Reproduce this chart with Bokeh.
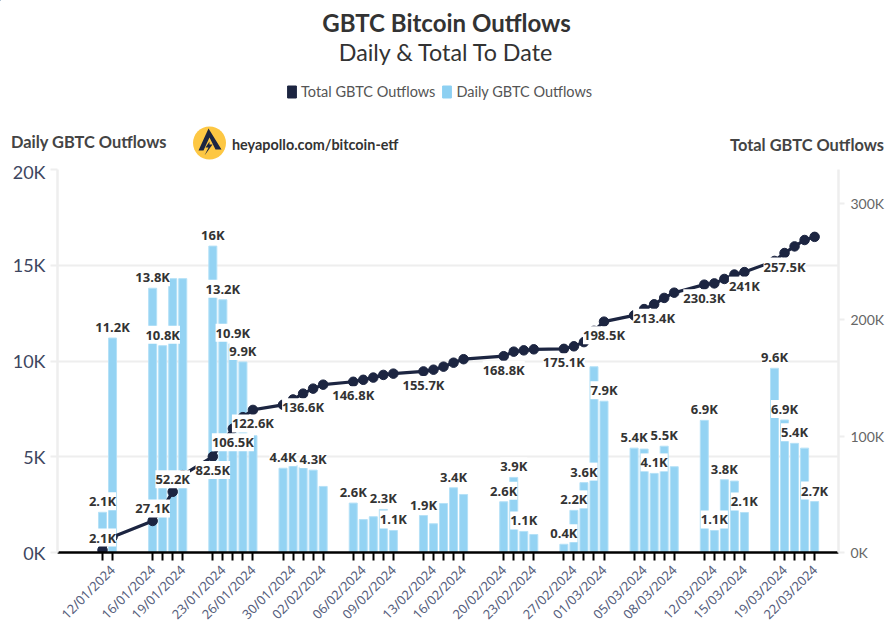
import numpy as np
import pandas as pd
from bokeh.plotting import figure
from bokeh.layouts import column
from bokeh.embed import file_html
from bokeh.resources import INLINE
from bokeh.core.properties import value
from bokeh.models import (ColumnDataSource, FixedTicker, Legend, LegendItem, LinearAxis, Range1d)

dates = ["11/01/2024","12/01/2024","16/01/2024","17/01/2024","18/01/2024","19/01/2024",
         "22/01/2024","23/01/2024","24/01/2024","25/01/2024","26/01/2024",
         "29/01/2024","30/01/2024","31/01/2024","01/02/2024","02/02/2024",
         "05/02/2024","06/02/2024","07/02/2024","08/02/2024","09/02/2024",
         "12/02/2024","13/02/2024","14/02/2024","15/02/2024","16/02/2024",
         "20/02/2024","21/02/2024","22/02/2024","23/02/2024",
         "26/02/2024","27/02/2024","28/02/2024","29/02/2024","01/03/2024",
         "04/03/2024","05/03/2024","06/03/2024","07/03/2024","08/03/2024",
         "11/03/2024","12/03/2024","13/03/2024","14/03/2024","15/03/2024",
         "18/03/2024","19/03/2024","20/03/2024","21/03/2024","22/03/2024"]
daily = [2.1,11.2,13.8,10.8,14.3,14.3,
         16.0,13.2,10.9,9.95,6.1,
         4.4,4.55,4.45,4.3,3.45,
         2.58,1.72,1.87,2.25,1.15,
         1.93,1.5,2.56,3.38,3.03,
         2.65,3.92,1.1,0.94,
         0.43,2.2,3.65,9.7,7.9,
         5.45,5.4,4.13,5.55,4.48,
         6.9,1.15,3.8,3.73,2.09,
         9.62,6.92,5.7,5.45,2.66]
total = [2.1,13.3,27.1,37.9,52.2,66.5,
         82.5,95.7,106.5,116.4,122.6,
         127.0,131.6,136.6,140.9,144.3,
         146.8,148.5,150.4,152.7,153.8,
         155.7,157.2,159.8,163.2,166.2,
         168.8,172.7,173.8,174.7,
         175.1,177.3,180.9,190.6,198.5,
         203.9,209.3,213.4,218.9,223.4,
         230.3,231.4,235.2,239.0,241.1,
         250.7,257.5,263.2,268.7,271.4]
tick_labels = ["12/01/2024","16/01/2024","19/01/2024","23/01/2024","26/01/2024","30/01/2024",
               "02/02/2024","06/02/2024","09/02/2024","13/02/2024","16/02/2024","20/02/2024",
               "23/02/2024","27/02/2024","01/03/2024","05/03/2024","08/03/2024","12/03/2024",
               "15/03/2024","19/03/2024","22/03/2024"]
daily_label_dates = ["11/01/2024","12/01/2024","16/01/2024","17/01/2024","22/01/2024","23/01/2024",
                     "24/01/2024","25/01/2024","29/01/2024","01/02/2024","05/02/2024","08/02/2024",
                     "09/02/2024","12/02/2024","15/02/2024","20/02/2024","21/02/2024","22/02/2024",
                     "26/02/2024","27/02/2024","28/02/2024","01/03/2024","04/03/2024","06/03/2024",
                     "07/03/2024","11/03/2024","12/03/2024","13/03/2024","15/03/2024","18/03/2024",
                     "19/03/2024","20/03/2024","22/03/2024"]
daily_label_text = ["2.1K","11.2K","13.8K","10.8K","16K","13.2K","10.9K","9.9K","4.4K","4.3K","2.6K","2.3K",
                    "1.1K","1.9K","3.4K","2.6K","3.9K","1.1K","0.4K","2.2K","3.6K","7.9K","5.4K","4.1K",
                    "5.5K","6.9K","1.1K","3.8K","2.1K","9.6K","6.9K","5.4K","2.7K"]
total_above_dates = ["11/01/2024","16/01/2024","18/01/2024"]
total_above_text = ["2.1K","27.1K","52.2K"]
total_below_dates = ["22/01/2024","24/01/2024","26/01/2024","31/01/2024","05/02/2024","12/02/2024","20/02/2024",
                     "26/02/2024","01/03/2024","06/03/2024","11/03/2024","15/03/2024","19/03/2024"]
total_below_text = ["82.5K","106.5K","122.6K","136.6K","146.8K","155.7K","168.8K",
                    "175.1K","198.5K","213.4K","230.3K","241K","257.5K"]

NAVY = "#1c2541"
BLUE = "#94d3f3"
INK = "#333333"
FONT = "Noto Sans"
HEAD = "Lato"

def ms(strings):
    return (pd.to_datetime(strings, format="%d/%m/%Y") - pd.Timestamp("1970-01-01")) / pd.Timedelta(milliseconds=1)

DAY = 86400000.0
x_all = np.asarray(ms(dates), dtype=float)
x0 = float(ms(["11/01/2024"])[0])
W = 884
H1 = 160                     # header strip
L, R, T, B = 57, 46, 9, 80   # borders of the chart figure
px_per_day = 10.03
xmin = x0 - (102 - 57) / px_per_day * DAY
xmax = x0 + (838 - 102) / px_per_day * DAY

# header strip: title, subtitle, legend, axis captions and logo
h = figure(width=W, height=H1, output_backend="svg", toolbar_location=None,
           x_range=Range1d(0, W), y_range=Range1d(H1, 0), outline_line_color=None,
           min_border_left=0, min_border_right=0, min_border_top=0, min_border_bottom=0,
           frame_align=False)
h.axis.visible = False
h.grid.visible = False
def put(text, px, py, size, bold=False, align="left", color=INK, font=HEAD):
    h.text(x=[px], y=[py], text=[text], text_font=value(font), text_font_size=size,
           text_font_style="bold" if bold else "normal", text_align=align,
           text_baseline="middle", text_color=color)
put("GBTC Bitcoin Outflows", 446, 21.5, "24px", True, "center")
put("Daily & Total To Date", 446, 51.5, "23.3px", False, "center")
put("Daily GBTC Outflows", 10.5, 141, "16.4px", True, "left", "#444444")
put("Total GBTC Outflows", 883.5, 144, "16.4px", True, "right", "#444444")
put("heyapollo.com/bitcoin-etf", 231.5, 144, "14.4px", True, "left", "#333333")
h.scatter(x=[209], y=[142.5], size=33, fill_color="#fdc743", line_color=None)
h.patch(x=[208, 198, 203, 209, 215, 221], y=[128, 150, 150, 137, 149, 149], fill_color=NAVY, line_color=None)
h.patch(x=[209, 205, 208, 204, 212, 209], y=[141, 147, 147, 155, 144, 144], fill_color=NAVY, line_color=None)
sw_total = h.vbar(x=[-50], top=[-50], bottom=[-60], width=1, fill_color=NAVY, line_color=NAVY)
sw_daily = h.vbar(x=[-50], top=[-50], bottom=[-60], width=1, fill_color="#8dd0f2", line_color="#8dd0f2")
legend = Legend(items=[LegendItem(label="Total GBTC Outflows", renderers=[sw_total]),
                       LegendItem(label="Daily GBTC Outflows", renderers=[sw_daily])],
                orientation="horizontal", location=(286, H1 - 100),
                glyph_width=11, glyph_height=15, label_standoff=4, spacing=6, padding=0, margin=0,
                border_line_color=None, background_fill_alpha=0,
                label_text_font=HEAD, label_text_font_size="14.5px", label_text_color="#555555",
                label_height=15)
h.add_layout(legend, "center")

# chart
p = figure(output_backend="svg", toolbar_location=None,
           frame_width=781, frame_height=383,
           x_range=Range1d(xmin, xmax), y_range=Range1d(0, 20),
           min_border_left=L, min_border_right=R, min_border_top=T, min_border_bottom=B,
           outline_line_color=None, background_fill_color="white", frame_align=False)
p.extra_y_ranges["total"] = Range1d(0, 383 / 1.163)

p.xgrid.visible = False
p.ygrid.ticker = FixedTicker(ticks=[0, 5, 10, 15, 20])
p.ygrid.grid_line_color = "#eeeeee"
p.ygrid.grid_line_width = 2

ax = p.xaxis[0]
ax.ticker = FixedTicker(ticks=list(x_all))
ax.major_label_overrides = {float(t): "" for t in x_all}
for s in tick_labels:
    ax.major_label_overrides[float(ms([s])[0])] = s
ax.major_label_orientation = np.pi / 4
ax.axis_line_color = "black"
ax.axis_line_width = 2.5
ax.major_tick_line_color = "black"
ax.major_tick_line_width = 2
ax.major_tick_in = 0
ax.major_tick_out = 8
ax.minor_tick_line_color = None
ax.major_label_text_font = FONT
ax.major_label_text_font_size = "13px"
ax.major_label_text_color = "#565e7c"
ax.major_label_standoff = 7

ay = p.yaxis[0]
ay.ticker = FixedTicker(ticks=[0, 5, 10, 15, 20])
ay.major_label_overrides = {0: "0K", 5: "5K", 10: "10K", 15: "15K", 20: "20K"}
ay.axis_line_color = "#eeeeee"
ay.axis_line_width = 2.5
ay.major_tick_line_color = "#eeeeee"
ay.major_tick_line_width = 2
ay.major_tick_in = 0
ay.major_tick_out = 7
ay.minor_tick_line_color = None
ay.major_label_text_font = HEAD
ay.major_label_text_font_size = "18px"
ay.major_label_text_color = "#3d4660"
ay.major_label_standoff = 5

ar = LinearAxis(y_range_name="total", ticker=FixedTicker(ticks=[0, 100, 200, 300]),
                major_label_overrides={0: "0K", 100: "100K", 200: "200K", 300: "300K"},
                axis_line_color="#eeeeee", axis_line_width=2.5,
                major_tick_line_color="#eeeeee", major_tick_line_width=2, major_tick_in=0, major_tick_out=6,
                minor_tick_line_color=None, major_label_text_font=HEAD, major_label_text_font_size="14px",
                major_label_text_color="#666666", major_label_standoff=6)
p.add_layout(ar, "right")

src = ColumnDataSource(dict(x=x_all, daily=daily, total=total))
p.vbar(x="x", top="daily", width=0.8 * DAY, source=src, fill_color=BLUE,
       line_color="#b5e1f7", line_width=1)
p.line(x="x", y="total", source=src, y_range_name="total", line_color=NAVY, line_width=3.2)
p.scatter(x="x", y="total", source=src, y_range_name="total", size=9.5, fill_color=NAVY, line_color=NAVY)

tot_map = dict(zip(dates, total))
day_map = dict(zip(dates, daily))
common = dict(text_font=value(FONT), text_font_style="bold", text_font_size="13px", text_color=INK,
              text_align="center", text_baseline="middle", background_fill_color="white", padding=0)
p.text(x=list(ms(daily_label_dates)), y=[day_map[d] for d in daily_label_dates], text=daily_label_text,
       y_offset=-11, **common)
p.text(x=list(ms(total_above_dates)), y=[tot_map[d] for d in total_above_dates], text=total_above_text,
       y_range_name="total", y_offset=-12.5, **common)
p.text(x=list(ms(total_below_dates)), y=[tot_map[d] for d in total_below_dates], text=total_below_text,
       y_range_name="total", y_offset=13.5, **common)

page = column(h, p, spacing=0)
open("out.html", "w").write(file_html(page, INLINE))
